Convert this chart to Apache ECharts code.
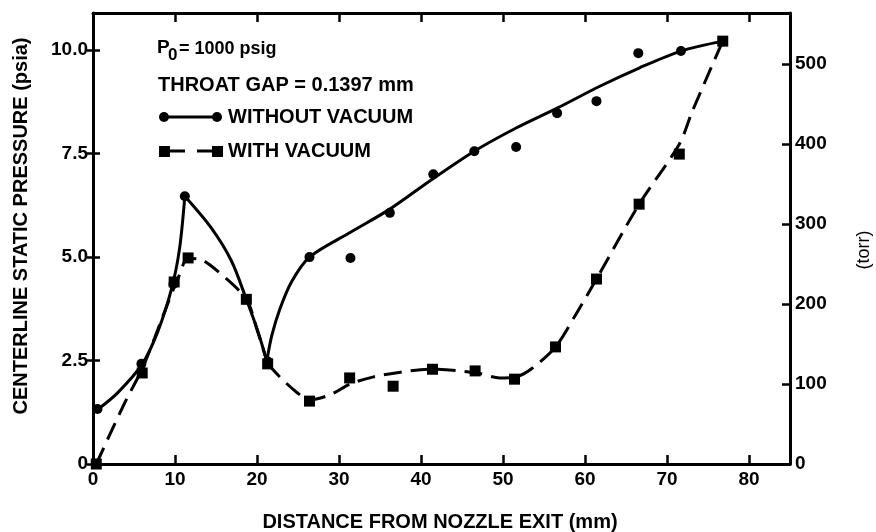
<!DOCTYPE html>
<html><head><meta charset="utf-8">
<script src="https://cdn.jsdelivr.net/npm/echarts@6/dist/echarts.min.js"></script>
<style>html,body{margin:0;padding:0;background:#fff}#c{width:876px;height:532px}</style>
</head><body><div id="c"></div>
<script>
// ---- data ----
const xMin = 0, xMax = 85, xStep = 10;
const psiaMax = 10.9, psiaStep = 2.5;
const torrPerPsi = 51.715, torrStep = 100;
const leftTickLabels = ['0', '2.5', '5.0', '7.5', '10.0'];
const rightTickLabels = ['0', '100', '200', '300', '400', '500'];
const xTickLabels = ['0', '10', '20', '30', '40', '50', '60', '70', '80'];

// measured points, without vacuum (circles)
const noVacX = [0.55, 5.9, 9.8, 11.2, 18.7, 21.3, 26.4, 31.4, 36.2, 41.5, 46.5, 51.6, 56.6, 61.4, 66.5, 71.7, 76.8];
const noVacY = [1.33, 2.42, 4.35, 6.47, 3.98, 2.48, 5.0, 4.98, 6.07, 7.0, 7.56, 7.66, 8.48, 8.77, 9.93, 9.98, 10.22];
// measured points, with vacuum (squares)
const vacX = [0.4, 6.0, 9.9, 11.6, 18.7, 21.3, 26.4, 31.3, 36.6, 41.4, 46.6, 51.4, 56.4, 61.4, 66.6, 71.5, 76.8];
const vacY = [0, 2.2, 4.4, 4.98, 3.98, 2.42, 1.52, 2.08, 1.88, 2.29, 2.25, 2.05, 2.83, 4.47, 6.28, 7.49, 10.22];

// faired curve, without vacuum (solid), three branches with cusps
const noVacCurveA = [[0.59,1.32],[3.0,1.72],[5.96,2.4],[7.9,3.2],[9.6,4.25],[10.55,5.2],[11.2,6.47]];
const noVacCurveB = [[11.2,6.47],[14.4,5.71],[16.9,4.9],[18.7,3.98],[20.1,3.21],[21.2,2.49]];
const noVacCurveC = [[21.2,2.49],[21.8,3.1],[22.8,3.75],[24.2,4.4],[26.4,5.0],[31.4,5.6],[36.2,6.16],[41.5,6.9],[46.5,7.56],[51.6,8.12],[56.6,8.6],[61.8,9.13],[66.6,9.57],[71.7,9.98],[76.8,10.22]];
// faired curve, with vacuum (dashed)
const vacCurveA = [[0.4,0],[3.8,1.45],[6.0,2.3],[7.5,3.04],[9.1,3.87],[10.4,4.5],[11.6,4.97],[13.0,4.95],[15.2,4.66],[18.7,3.98],[20.0,3.25],[21.3,2.42]];
const vacCurveB = [[21.3,2.42],[22.7,2.12],[24.8,1.74],[26.4,1.55],[29.0,1.68],[31.3,1.93],[34.1,2.1],[37.5,2.22],[41.4,2.29],[46.8,2.2],[49.6,2.08],[51.8,2.12],[53.6,2.32],[56.4,2.83],[58.9,3.62],[61.4,4.47],[66.6,6.28],[71.5,7.73],[73.1,8.53],[76.8,10.22]];

// ---- chart ----
const FONT = '"Liberation Sans", Arial, sans-serif';
const BLACK = '#000';
const zip = (xs, ys) => xs.map((x, i) => [x, ys[i]]);

const chart = echarts.init(document.getElementById('c'), null, {renderer: 'canvas'});

const labelStyle = {color: BLACK, fontFamily: FONT, fontWeight: 'bold', fontSize: 19};

function solid(data) {
  return {type: 'line', data, smooth: 0.3, showSymbol: false, silent: true, z: 3,
    lineStyle: {color: BLACK, width: 3}};
}
function dashed(data) {
  return {type: 'line', data, smooth: 0.3, showSymbol: false, silent: true, z: 3,
    lineStyle: {color: BLACK, width: 3, type: [18, 9]}};
}
const axLine = {show: true, onZero: false, lineStyle: {color: BLACK, width: 3}};

const option = {
  animation: false,
  backgroundColor: '#fff',
  grid: {left: 93, right: 86, top: 13, bottom: 68, containLabel: false},
  xAxis: [
    {type: 'value', position: 'bottom', min: xMin, max: xMax, interval: xStep,
      axisLine: axLine,
      axisTick: {show: true, inside: true, length: 9, lineStyle: {color: BLACK, width: 2.5}},
      axisLabel: Object.assign({margin: 6, showMaxLabel: false,
        formatter: v => (v % xStep === 0 ? xTickLabels[v / xStep] : '')}, labelStyle),
      splitLine: {show: false}},
    {type: 'value', position: 'top', min: xMin, max: xMax, interval: xStep,
      axisLine: axLine,
      axisTick: {show: true, inside: true, length: 9, lineStyle: {color: BLACK, width: 2.5}},
      axisLabel: {show: false}, splitLine: {show: false}}
  ],
  yAxis: [
    {type: 'value', position: 'left', min: 0, max: psiaMax, interval: psiaStep,
      axisLine: axLine,
      axisTick: {show: true, inside: false, length: 6, lineStyle: {color: BLACK, width: 2.5}},
      axisLabel: Object.assign({margin: 5, showMaxLabel: false,
        formatter: v => { const i = Math.round(v / psiaStep); return Math.abs(v - i * psiaStep) < 1e-6 ? leftTickLabels[i] : ''; }}, labelStyle),
      splitLine: {show: false}},
    {type: 'value', position: 'right', min: 0, max: psiaMax * torrPerPsi, interval: torrStep,
      axisLine: axLine,
      axisTick: {show: true, inside: true, length: 8, lineStyle: {color: BLACK, width: 2.5}},
      axisLabel: Object.assign({margin: 5, showMaxLabel: false,
        formatter: v => (v % torrStep === 0 ? rightTickLabels[v / torrStep] : '')}, labelStyle),
      splitLine: {show: false}},
    {type: 'value', position: 'left', min: 0, max: psiaMax, interval: psiaStep,
      axisLine: {show: false, onZero: false},
      axisTick: {show: true, inside: true, length: 7, lineStyle: {color: BLACK, width: 2.5}},
      axisLabel: {show: false}, splitLine: {show: false}}
  ],
  series: [
    solid(noVacCurveA), solid(noVacCurveB), solid(noVacCurveC),
    dashed(vacCurveA), dashed(vacCurveB),
    {type: 'scatter', data: zip(noVacX, noVacY), symbol: 'circle', symbolSize: 10, z: 4,
      itemStyle: {color: BLACK, opacity: 1}, silent: true},
    {type: 'scatter', data: zip(vacX, vacY), symbol: 'rect', symbolSize: 11, z: 4,
      itemStyle: {color: BLACK, opacity: 1}, silent: true}
  ],
  graphic: [
    // axis titles
    {type: 'text', x: 21, y: 226, rotation: Math.PI / 2,
      style: {text: 'CENTERLINE STATIC PRESSURE (psia)', fill: BLACK, font: 'bold 20px ' + FONT, align: 'center', verticalAlign: 'middle'}},
    {type: 'text', x: 440, y: 522,
      style: {text: 'DISTANCE FROM NOZZLE EXIT (mm)', fill: BLACK, font: 'bold 20px ' + FONT, align: 'center', verticalAlign: 'middle'}},
    {type: 'text', x: 864, y: 250, rotation: Math.PI / 2,
      style: {text: '(torr)', fill: BLACK, font: '18px ' + FONT, align: 'center', verticalAlign: 'middle'}},
    // annotations
    {type: 'text', x: 157, y: 48,
      style: {text: 'P', fill: BLACK, font: 'bold 19px ' + FONT, align: 'left', verticalAlign: 'middle'}},
    {type: 'text', x: 168, y: 55,
      style: {text: '0', fill: BLACK, font: 'bold 17px ' + FONT, align: 'left', verticalAlign: 'middle'}},
    {type: 'text', x: 179, y: 49,
      style: {text: '= 1000 psig', fill: BLACK, font: 'bold 18px ' + FONT, align: 'left', verticalAlign: 'middle'}},
    {type: 'text', x: 158, y: 85,
      style: {text: 'THROAT GAP = 0.1397 mm', fill: BLACK, font: 'bold 20px ' + FONT, align: 'left', verticalAlign: 'middle'}},
    // legend
    {type: 'line', shape: {x1: 164, y1: 117, x2: 217, y2: 117}, style: {stroke: BLACK, lineWidth: 3}},
    {type: 'circle', shape: {cx: 164, cy: 117, r: 5}, style: {fill: BLACK}},
    {type: 'circle', shape: {cx: 217, cy: 117, r: 5}, style: {fill: BLACK}},
    {type: 'text', x: 228, y: 117,
      style: {text: 'WITHOUT VACUUM', fill: BLACK, font: 'bold 20px ' + FONT, align: 'left', verticalAlign: 'middle'}},
    {type: 'line', shape: {x1: 164, y1: 151, x2: 218, y2: 151}, style: {stroke: BLACK, lineWidth: 3, lineDash: [21, 12]}},
    {type: 'rect', shape: {x: 159, y: 146, width: 11, height: 11}, style: {fill: BLACK}},
    {type: 'rect', shape: {x: 212, y: 146, width: 11, height: 11}, style: {fill: BLACK}},
    {type: 'text', x: 228, y: 151,
      style: {text: 'WITH VACUUM', fill: BLACK, font: 'bold 20px ' + FONT, align: 'left', verticalAlign: 'middle'}}
  ]
};
chart.setOption(option);
</script>
</body></html>
